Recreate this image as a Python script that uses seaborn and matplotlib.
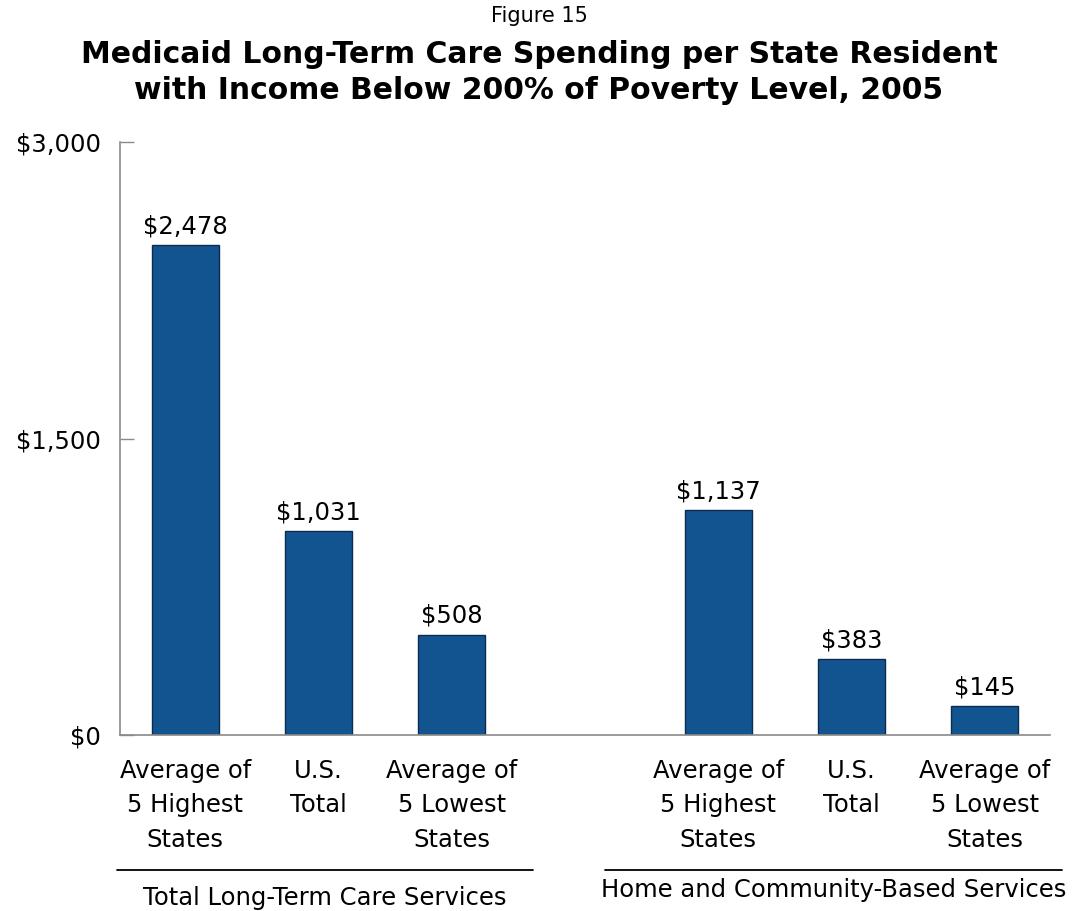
import pandas as pd
import matplotlib
matplotlib.use("Agg")
import matplotlib.pyplot as plt
import matplotlib.transforms as mtransforms
import seaborn as sns

# Data (Figure 15)
groups = ["Total Long-Term Care Services", "Home and Community-Based Services"]
categories = ["Average of\n5 Highest\nStates", "U.S.\nTotal", "Average of\n5 Lowest\nStates"]
tlc_values = [2478, 1031, 508]
hcbs_values = [1137, 383, 145]
yticks = [0, 1500, 3000]

BAR_COLOR = "#12548f"
EDGE_COLOR = "#0b2c50"
AXIS_COLOR = "#8a8a8a"

sns.set_style("white")
plt.rcParams["font.family"] = ["DejaVu Sans"]
plt.rcParams["text.color"] = "black"
plt.rcParams["xtick.color"] = "black"
plt.rcParams["ytick.color"] = "black"

# one key per bar, with an empty slot between the two groups
rows = []
for grp, vals in zip(groups, [tlc_values, hcbs_values]):
    for cat, v in zip(categories, vals):
        rows.append({"key": f"{grp}|{cat}", "group": grp, "category": cat, "spending": v})
df = pd.DataFrame(rows)
order = [f"{groups[0]}|{c}" for c in categories] + ["gap"] + [f"{groups[1]}|{c}" for c in categories]

fig = plt.figure(figsize=(10.78, 9.11), dpi=100)
ax = fig.add_axes([0.1113, 0.1932, 0.8627, 0.6509])

sns.barplot(data=df, x="key", y="spending", order=order, color=BAR_COLOR,
            saturation=1, width=0.5, edgecolor=EDGE_COLOR, linewidth=1,
            errorbar=None, ax=ax)

for container in ax.containers:
    ax.bar_label(container, labels=[f"${v:,.0f}" if v == v else "" for v in container.datavalues],
                 padding=5, fontsize=17.5, color="black")

ax.set_xlim(-0.49, 6.49)
ax.set_ylim(0, 3000)
ax.set_yticks(yticks)
ax.set_yticklabels([f"${v:,.0f}" for v in yticks], fontsize=17.5)
ax.set_xticks(range(len(order)))
ax.set_xticklabels([k.split("|")[1] if "|" in k else "" for k in order], fontsize=17.5,
                   linespacing=1.55)
ax.set_xlabel("")
ax.set_ylabel("")

ax.tick_params(axis="y", left=True, direction="in", length=10, width=1,
               color=AXIS_COLOR, labelcolor="black", pad=14)
ax.tick_params(axis="x", length=0, pad=17, labelcolor="black")

sns.despine(ax=ax, top=True, right=True)
for side in ["left", "bottom"]:
    ax.spines[side].set_color(AXIS_COLOR)
    ax.spines[side].set_linewidth(1.2)

# group brackets below the category labels
trans = mtransforms.blended_transform_factory(ax.transData, ax.transAxes)
spans = [(-0.51, 2.61), (3.15, 6.58)]
label_y = [-0.275, -0.262]
for grp, (x0, x1), ly in zip(groups, spans, label_y):
    ax.plot([x0, x1], [-0.2277, -0.2277], color="black", lw=1.3,
            transform=trans, clip_on=False)
    ax.text((x0 + x1) / 2, ly, grp, transform=trans, ha="center", va="center",
            fontsize=17.5, color="black")

fig.text(0.5, 0.982, "Figure 15", ha="center", va="center", fontsize=15, color="black")
fig.text(0.5, 0.920, "Medicaid Long-Term Care Spending per State Resident\n"
         "with Income Below 200% of Poverty Level, 2005",
         ha="center", va="center", fontsize=21.5, fontweight="bold",
         linespacing=1.3, color="black")

fig.savefig("out.png", dpi=100)
